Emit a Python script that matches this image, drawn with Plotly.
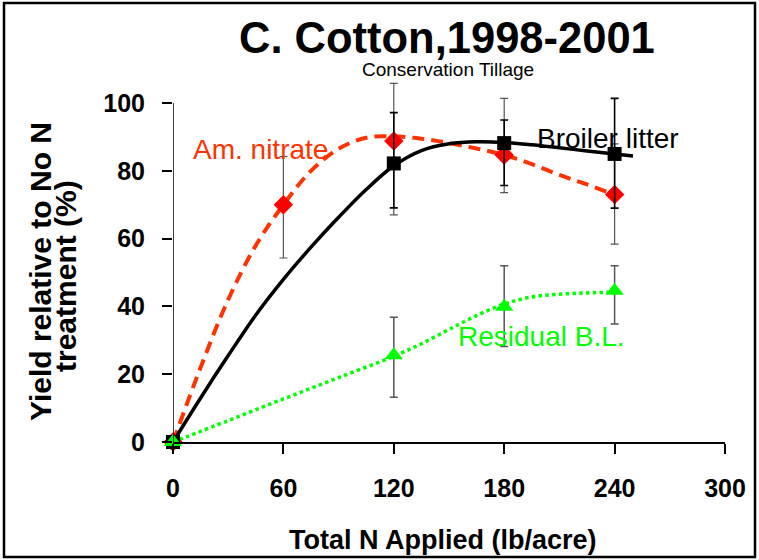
import plotly.graph_objects as go

# ---- data ----
n_rates = [0, 60, 120, 180, 240]
am_nitrate = [0, 70, 88.8, 84.7, 73]
am_nitrate_err_plus = [0, 14.2, 17, 16.7, 15]
am_nitrate_err_minus = [0, 15.7, 21.8, 11.1, 14.6]

bl_rates = [0, 120, 180, 240]
broiler = [0, 82.2, 88.2, 85]
broiler_err_plus = [0, 15, 6.8, 16.4]
broiler_err_minus = [0, 13.1, 12.5, 16]

residual = [0, 25.6, 39.9, 44.6]
residual_err_plus = [0, 11.2, 12.1, 7.4]
residual_err_minus = [0, 12.4, 11.7, 9.8]

# fitted response curves
an_fit_x = [0, 15, 30, 45, 60, 75, 90, 105, 120, 135, 150, 165, 180, 195, 210, 225, 240]
an_fit_y = [0, 22, 42, 58, 70, 80, 86.5, 89.8, 90.2, 89.5, 88.2, 86.6, 84.7, 82, 78.8, 76, 73]
bl_fit_x = [0, 15, 30, 45, 60, 75, 90, 105, 120, 135, 150, 165, 180, 195, 210, 225, 240, 250]
bl_fit_y = [0, 13, 25.5, 37.5, 48, 57.5, 66.3, 74.5, 81.5, 86, 88, 88.6, 88.4, 87.7, 86.8, 85.9, 85, 84.4]
rbl_fit_x = [0, 30, 60, 90, 120, 135, 150, 165, 180, 195, 210, 225, 240]
rbl_fit_y = [0, 6.3, 12.7, 19, 25.3, 29, 33.2, 37.3, 40.7, 42.8, 43.6, 44, 44.2]

x_ticks = [0, 60, 120, 180, 240, 300]
y_ticks = [0, 20, 40, 60, 80, 100]

title_text = "C. Cotton,1998-2001"
subtitle_text = "Conservation Tillage"
x_title = "Total N Applied (lb/acre)"
y_title_lines = ["Yield relative to No N", "treatment (%)"]

RED_LINE = "#FF3300"
RED = "#FF0000"
GREEN = "#00FF00"
FONT = "Liberation Sans, Arial, Helvetica, sans-serif"

fig = go.Figure()

# curves
fig.add_trace(go.Scatter(x=an_fit_x, y=an_fit_y, mode="lines", line_shape="spline",
                         line=dict(color=RED_LINE, width=4, dash="12px,7px"),
                         hoverinfo="skip", showlegend=False))
fig.add_trace(go.Scatter(x=bl_fit_x, y=bl_fit_y, mode="lines", line_shape="spline",
                         line=dict(color="black", width=3.5),
                         hoverinfo="skip", showlegend=False))
fig.add_trace(go.Scatter(x=rbl_fit_x, y=rbl_fit_y, mode="lines", line_shape="spline",
                         line=dict(color=GREEN, width=3.5, dash="3.5px,3.3px"),
                         hoverinfo="skip", showlegend=False))

# points with error bars
fig.add_trace(go.Scatter(x=n_rates, y=am_nitrate, mode="markers", cliponaxis=False,
                         marker=dict(symbol="diamond", size=15, color=RED),
                         error_y=dict(type="data", symmetric=False, array=am_nitrate_err_plus,
                                      arrayminus=am_nitrate_err_minus, color="#555555",
                                      thickness=1.2, width=4),
                         name="Am. nitrate", showlegend=False))
fig.add_trace(go.Scatter(x=bl_rates, y=broiler, mode="markers", cliponaxis=False,
                         marker=dict(symbol="square", size=14, color="black"),
                         error_y=dict(type="data", symmetric=False, array=broiler_err_plus,
                                      arrayminus=broiler_err_minus, color="black",
                                      thickness=1.6, width=4),
                         name="Broiler litter", showlegend=False))
fig.add_trace(go.Scatter(x=bl_rates, y=residual, mode="markers", cliponaxis=False,
                         marker=dict(symbol="triangle-up", size=16, color=GREEN),
                         error_y=dict(type="data", symmetric=False, array=residual_err_plus,
                                      arrayminus=residual_err_minus, color="#555555",
                                      thickness=1.5, width=4),
                         name="Residual B.L.", showlegend=False))

L, R, T, B = 173, 34, 76, 118
PW = 759 - L - R
PH = 560 - T - B


def px(xp):
    return (xp - L) / PW


def py(yp):
    return (560 - B - yp) / PH


annotations = [
    dict(text=title_text, x=px(447), y=py(38), xref="paper", yref="paper",
         showarrow=False, xanchor="center", yanchor="middle",
         font=dict(family=FONT, size=43.5, color="black", weight="bold")),
    dict(text=subtitle_text, x=px(448), y=py(69.5), xref="paper", yref="paper",
         showarrow=False, xanchor="center", yanchor="middle",
         font=dict(family=FONT, size=19, color="black")),
    dict(text=x_title, x=px(443), y=py(540), xref="paper", yref="paper",
         showarrow=False, xanchor="center", yanchor="middle",
         font=dict(family=FONT, size=27, color="black", weight="bold")),
    dict(text=y_title_lines[0], x=px(40), y=py(272), xref="paper", yref="paper",
         showarrow=False, xanchor="center", yanchor="middle", textangle=-90,
         font=dict(family=FONT, size=30, color="black", weight="bold")),
    dict(text=y_title_lines[1], x=px(65), y=py(276), xref="paper", yref="paper",
         showarrow=False, xanchor="center", yanchor="middle", textangle=-90,
         font=dict(family=FONT, size=30, color="black", weight="bold")),
    dict(text="Am. nitrate", x=47.6, y=86.2, xref="x", yref="y",
         showarrow=False, xanchor="center", yanchor="middle",
         font=dict(family=FONT, size=28, color=RED_LINE)),
    dict(text="Broiler litter", x=236.4, y=89.7, xref="x", yref="y",
         showarrow=False, xanchor="center", yanchor="middle",
         font=dict(family=FONT, size=28, color="black")),
    dict(text="Residual B.L.", x=200.5, y=31.2, xref="x", yref="y",
         showarrow=False, xanchor="center", yanchor="middle",
         font=dict(family=FONT, size=28, color=GREEN)),
]

shapes = [
    # y axis line only up to 100
    dict(type="line", xref="x", yref="y", x0=0, x1=0, y0=0, y1=100,
         line=dict(color="black", width=1.5)),
    # figure border
    dict(type="rect", xref="paper", yref="paper", x0=px(4), x1=px(755), y0=py(557), y1=py(3),
         line=dict(color="black", width=2.5), layer="above"),
]

fig.update_layout(
    width=759, height=560,
    margin=dict(l=L, r=R, t=T, b=B),
    paper_bgcolor="white", plot_bgcolor="white",
    showlegend=False,
    annotations=annotations,
    shapes=shapes,
    font=dict(family=FONT, color="black"),
    xaxis=dict(range=[0, 300], tickvals=x_ticks, ticktext=[str(v) for v in x_ticks],
               showline=True, linecolor="black", linewidth=1.5, mirror=False,
               ticks="outside", ticklen=10, tickwidth=1.5, tickcolor="black",
               showgrid=False, zeroline=False, ticklabelstandoff=13,
               tickfont=dict(family=FONT, size=25, color="black", weight="bold")),
    yaxis=dict(range=[0, 108], tickvals=y_ticks, ticktext=[str(v) for v in y_ticks],
               showline=False, ticks="outside", ticklen=10, tickwidth=1.5, tickcolor="black",
               showgrid=False, zeroline=False, ticklabelstandoff=12,
               tickfont=dict(family=FONT, size=25, color="black", weight="bold")),
)

fig.write_html("out.html", config={"displayModeBar": False},
               post_script="document.body.style.margin='0px';")
